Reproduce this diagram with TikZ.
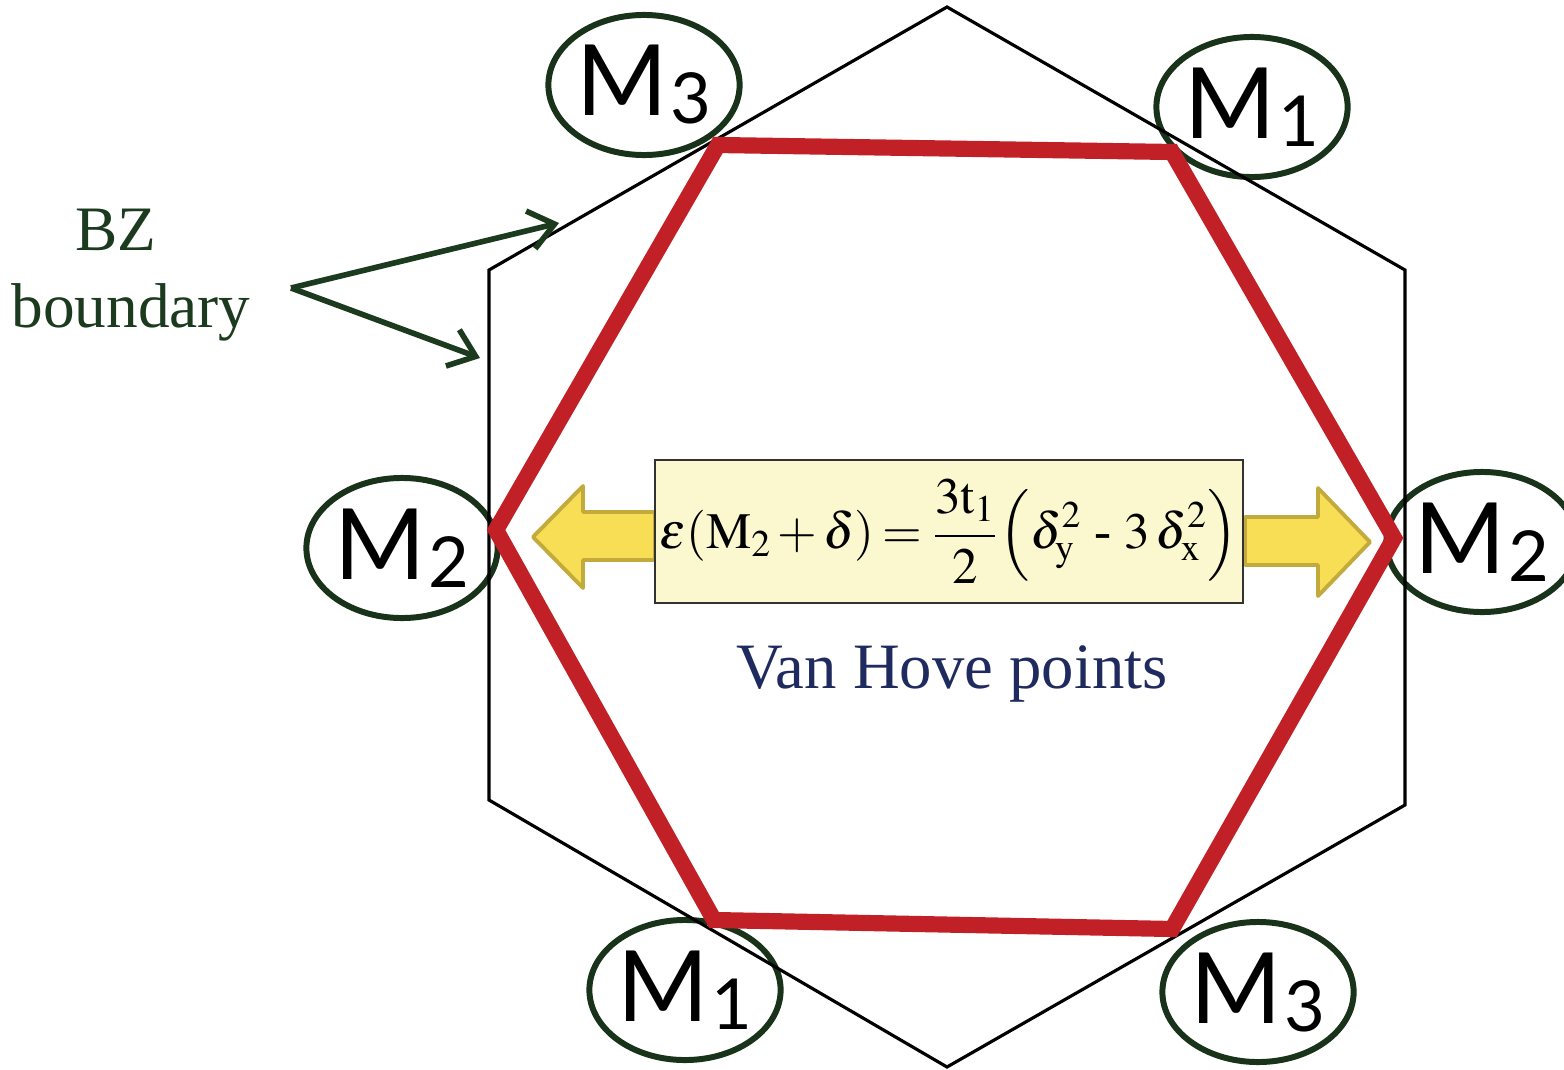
\documentclass[tikz,border=0pt]{standalone}
\usepackage{mathptmx}
\usepackage{fontspec}
\setmainfont{Liberation Serif}
\newfontfamily\pointfont{Lato}
\usepackage{tikz}
\usetikzlibrary{shapes.geometric, arrows.meta, positioning}

\definecolor{hexred}{RGB}{192,32,38}
\definecolor{ringgreen}{RGB}{25,50,26}
\definecolor{bzgreen}{RGB}{27,58,30}
\definecolor{vhblue}{RGB}{31,42,94}
\definecolor{boxfill}{RGB}{251,248,207}
\definecolor{boxline}{RGB}{50,50,50}
\definecolor{arrowfill}{RGB}{248,222,85}
\definecolor{arrowline}{RGB}{195,170,60}

\newcommand{\mpoint}[1]{{\pointfont\fontsize{28}{28}\selectfont M\hspace{0.03cm}\raisebox{-0.08cm}{\fontsize{20}{20}\selectfont #1}}}

\begin{document}
\begin{tikzpicture}[x=0.01cm, y=-0.01cm,
        mpt/.style={draw=ringgreen, ellipse, line width=1.7pt, inner sep=0pt, minimum width=1.70cm, minimum height=1.40cm},
        bzline/.style={black, line width=0.9pt, line join=miter},
        fermi/.style={hexred, line width=4.6pt, line join=miter},
        formula/.style={draw=boxline, fill=boxfill, line width=0.7pt, minimum width=5.88cm, minimum height=1.43cm, inner sep=0pt},
        yarrow/.style={draw=arrowline, fill=arrowfill, line width=1.1pt, line join=round},
        pointer/.style={draw=bzgreen, line width=1.6pt, -{Straight Barb[length=7pt, width=11pt]}}
    ]
        \useasboundingbox (0,0) rectangle (1564,1070);

        \node[mpt] (m3top) at (644,85) {\mpoint{3}};
        \node[mpt] (m1top) at (1252,107) {\mpoint{1}};
        \node[mpt] (m2left) at (402,548) {\mpoint{2}};
        \node[mpt] (m2right) at (1482,542) {\mpoint{2}};
        \node[mpt] (m1bot) at (685,990) {\mpoint{1}};
        \node[mpt] (m3bot) at (1258,992) {\mpoint{3}};

        \draw[bzline] (947,7) -- (1405,270) -- (1405,805) -- (947,1067) -- (489,800) -- (489,270) -- cycle;
        \draw[fermi] (718,145) -- (1172,152) -- (1394,538) -- (1172,929) -- (714,920) -- (496,530) -- cycle;

        \draw[yarrow] (655,512) -- (583,512) -- (583,486) -- (533,537) -- (583,588) -- (583,560) -- (655,560) -- cycle;
        \draw[yarrow] (1245,517) -- (1318,517) -- (1318,488) -- (1370,542) -- (1318,596) -- (1318,565) -- (1245,565) -- cycle;

        \node[formula] (eq) at (949,531.5) {\fontsize{14.5}{18}\selectfont
            \thickmuskip=3mu \medmuskip=2mu
            $\displaystyle \varepsilon(\mathrm{M}_2+\delta)=\frac{3\mathrm{t}_1}{2}\Bigl(\delta_{\mathrm{y}}^{2}\ \mbox{-}\ 3\,\delta_{\mathrm{x}}^{2}\Bigr)$};

        \node[text=vhblue, font=\fontsize{18.4}{22}\selectfont] (vh) at (952,674) {Van Hove points};

        \node[text=bzgreen, font=\fontsize{18}{22}\selectfont, align=center] (bz) at (131,275) {BZ\hspace*{0.3cm}\\boundary};
        \coordinate (fork) at (291,288);
        \coordinate (edgetop) at (559,223);
        \coordinate (edgeleft) at (480,358);
        \draw[pointer] (fork) -- (edgetop);
        \draw[pointer] (fork) -- (edgeleft);

    \end{tikzpicture}
\end{document}
